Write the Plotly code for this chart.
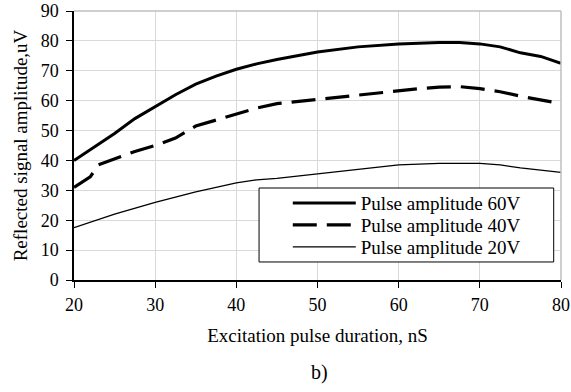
import plotly.graph_objects as go

x60 = [20, 22.5, 25, 27.5, 30, 32.5, 35, 37.5, 40, 42.5, 45, 47.5, 50, 55, 60, 65, 67.5, 70, 72.5, 75, 77.5, 80]
y60 = [40, 44.5, 49, 54, 58, 62, 65.5, 68.2, 70.5, 72.3, 73.8, 75, 76.3, 78, 79, 79.5, 79.5, 79, 78, 76, 74.8, 72.5]

x40 = [20, 22, 23, 25, 27.5, 30, 32.5, 35, 37.5, 40, 42.5, 45, 50, 55, 60, 62.5, 65, 67.5, 70, 72.5, 75, 77.5, 80]
y40 = [31, 34.5, 38.5, 40.5, 43, 45, 47.5, 51.5, 53.5, 55.5, 57.5, 59, 60.5, 62, 63.5, 64, 64.5, 64.7, 64, 63, 61.5, 60.3, 59]

x20 = [20, 25, 30, 35, 40, 42.5, 45, 50, 55, 60, 65, 70, 72.5, 75, 80]
y20 = [17.5, 22, 26, 29.5, 32.5, 33.5, 34, 35.5, 37, 38.5, 39, 39, 38.5, 37.5, 36]

names = ["Pulse amplitude 60V", "Pulse amplitude 40V", "Pulse amplitude 20V"]
x_ticks = [20, 30, 40, 50, 60, 70, 80]
y_ticks = [0, 10, 20, 30, 40, 50, 60, 70, 80, 90]

font = "Times New Roman, Liberation Serif, serif"

fig = go.Figure()
fig.add_trace(go.Scatter(x=x60, y=y60, mode="lines", name=names[0], legend="legend",
                         line=dict(color="black", width=3)))
fig.add_trace(go.Scatter(x=x40, y=y40, mode="lines", name=names[1], legend="legend2",
                         line=dict(color="black", width=3.2, dash="24px,10px")))
fig.add_trace(go.Scatter(x=x20, y=y20, mode="lines", name=names[2], legend="legend3",
                         line=dict(color="black", width=1.3)))

leg_common = dict(x=0.439, xanchor="left", yanchor="middle",
                  bgcolor="rgba(0,0,0,0)", borderwidth=0,
                  font=dict(family=font, size=19, color="black"), itemwidth=63)

fig.update_layout(
    width=571, height=392,
    margin=dict(l=74, r=10, t=11, b=112, autoexpand=False),
    paper_bgcolor="white", plot_bgcolor="white",
    font=dict(family=font, size=18, color="black"),
    showlegend=True,
    legend=dict(y=0.286, **leg_common),
    legend2=dict(y=0.2045, **leg_common),
    legend3=dict(y=0.1227, **leg_common),
    xaxis=dict(range=[20, 80], tickmode="array", tickvals=x_ticks,
               tickfont=dict(family=font, size=18, color="black"),
               showgrid=True, gridcolor="#d9d9d9", gridwidth=1,
               showline=True, linecolor="black", linewidth=1.5,
               ticks="outside", ticklen=6, tickcolor="black", ticklabelstandoff=2,
               ticklabeloverflow="allow",
               mirror=False, zeroline=False, automargin=False,
               title=dict(text="Excitation pulse duration, nS",
                          font=dict(family=font, size=19, color="black"), standoff=14),
               fixedrange=True),
    yaxis=dict(range=[0, 90], tickmode="array", tickvals=y_ticks,
               tickfont=dict(family=font, size=18, color="black"),
               showgrid=True, gridcolor="#d9d9d9", gridwidth=1,
               showline=True, linecolor="black", linewidth=1.5,
               ticks="outside", ticklen=6, tickcolor="black", ticklabelstandoff=4,
               ticklabeloverflow="allow",
               zeroline=False, automargin=False,
               title=dict(text="Reflected signal amplitude,uV",
                          font=dict(family=font, size=19, color="black"), standoff=8),
               fixedrange=True),
)

# light border on top and right
fig.add_shape(type="line", xref="paper", yref="paper", x0=0, x1=1, y0=1, y1=1,
              line=dict(color="#bfbfbf", width=1.5))
fig.add_shape(type="line", xref="paper", yref="paper", x0=1, x1=1, y0=0, y1=1,
              line=dict(color="#bfbfbf", width=1.5))
# legend box
fig.add_shape(type="rect", xref="paper", yref="paper", x0=0.38, x1=0.985, y0=0.067, y1=0.342,
              line=dict(color="black", width=1), fillcolor="white", layer="above")

fig.add_annotation(text="b)", xref="paper", yref="paper", x=0.505, y=-0.343,
                   showarrow=False, font=dict(family=font, size=20, color="black"), yanchor="middle")

fig.write_html("out.html", config={"displayModeBar": False},
               post_script="document.body.style.margin='0px';")
